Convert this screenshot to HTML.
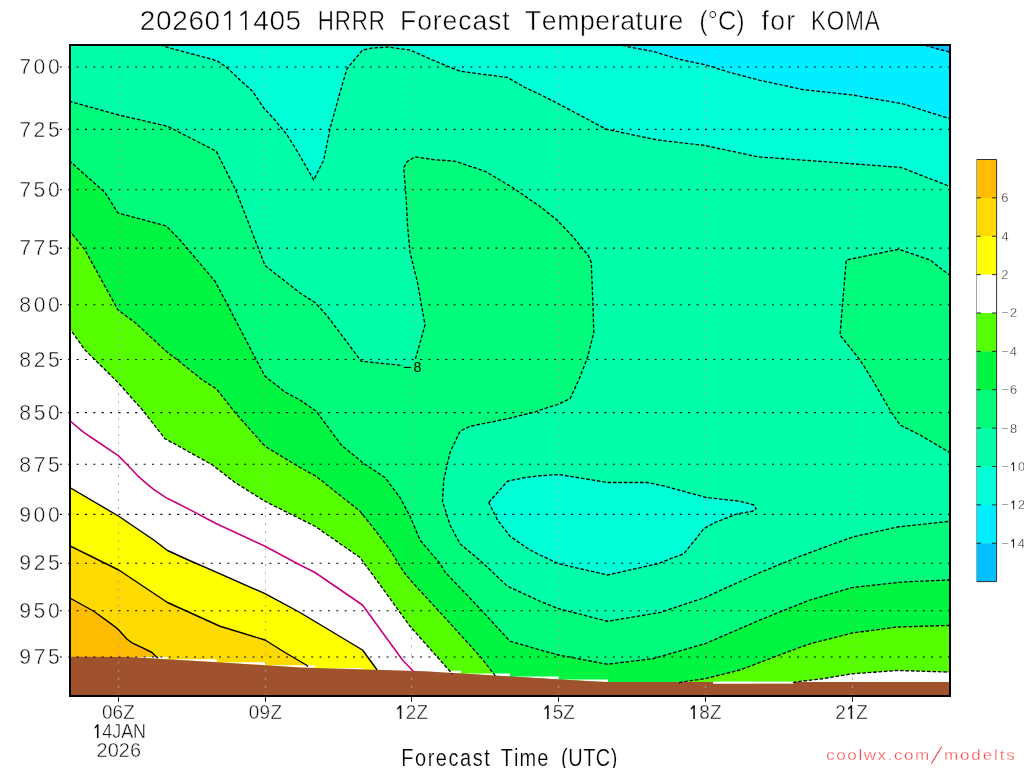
<!DOCTYPE html>
<html><head><meta charset="utf-8"><style>
html,body{margin:0;padding:0;background:#fff;width:1024px;height:768px;overflow:hidden}
svg{display:block;font-family:"Liberation Sans",sans-serif;will-change:transform}
</style></head><body>
<svg width="1024" height="768" viewBox="0 0 1024 768">
<defs><clipPath id="pc"><rect x="69" y="44.6" width="882" height="651"/></clipPath></defs>
<rect x="69" y="44" width="882" height="653" fill="rgb(0,255,168)"/>
<polygon points="160.00,44.00 160.00,45.00 172.50,48.75 191.25,53.75 212.50,59.40 218.75,61.90 227.50,68.10 240.00,80.00 252.50,91.25 263.75,108.10 273.75,118.75 286.25,133.75 295.00,147.50 300.00,156.00 313.75,180.00 323.75,160.00 330.00,128.75 340.00,92.50 347.00,68.75 362.50,50.00 372.50,48.00 387.50,47.00 410.00,50.00 432.50,60.00 460.00,71.25 507.50,77.50 525.00,87.50 540.00,94.50 556.00,102.50 572.50,111.25 606.25,129.25 657.50,140.00 705.00,145.50 755.00,156.25 760.00,157.00 852.50,163.75 901.25,167.50 947.50,185.50 951.00,186.50 951.00,44.00" fill="rgb(0,255,215)"/>
<polygon points="617.00,44.00 630.00,47.20 652.50,51.25 680.00,59.50 706.25,65.00 730.00,72.50 760.00,80.30 802.50,89.50 852.50,95.00 902.50,103.75 947.50,118.00 951.00,119.00 951.00,44.00" fill="rgb(0,238,255)"/>
<polygon points="920.00,44.00 937.20,48.80 947.50,51.50 951.00,52.50 951.00,44.00" fill="rgb(0,192,255)"/>
<polygon points="69.00,101.25 118.75,115.00 167.50,126.25 216.25,151.25 235.70,190.00 239.60,200.00 252.00,232.00 259.00,250.00 265.00,265.50 300.00,293.00 315.00,302.50 327.50,316.25 361.25,361.25 402.50,365.50 413.50,365.20 415.50,358.75 425.00,325.00 417.50,282.50 410.00,252.50 407.50,225.00 406.25,200.00 403.75,167.50 407.50,161.25 415.00,156.75 432.50,159.50 455.00,161.25 485.00,171.25 512.50,187.50 540.00,206.50 557.00,220.00 572.50,236.25 588.75,256.25 591.25,262.50 593.00,305.00 593.75,332.50 587.50,357.50 578.75,380.00 570.00,398.75 557.50,404.50 540.00,410.00 535.00,412.00 507.50,418.75 470.00,426.25 460.00,431.25 450.00,452.50 443.75,480.00 442.50,501.25 450.00,525.00 460.00,543.75 480.00,560.50 492.50,572.00 507.50,586.25 540.00,601.25 558.75,608.75 607.50,621.25 660.00,612.50 705.00,597.50 760.00,572.50 800.00,556.25 852.50,537.00 897.50,527.00 947.50,521.50 951.00,521.20 951.00,697.00 69.00,697.00" fill="rgb(0,252,122)"/>
<polygon points="951.00,275.50 947.50,273.75 930.00,260.00 898.75,249.25 846.25,260.00 840.00,335.00 860.00,360.00 872.50,380.00 890.00,410.00 900.00,425.00 920.00,435.00 947.50,451.25 951.00,453.00" fill="rgb(0,252,122)"/>
<polygon points="488.75,502.50 507.50,481.25 525.00,477.50 540.00,475.75 558.75,474.50 607.50,482.50 647.50,482.50 665.00,486.25 706.25,497.50 740.00,501.25 753.75,505.00 756.25,508.75 752.50,511.25 737.50,513.75 715.00,522.50 703.75,528.75 695.00,540.00 683.75,553.75 657.50,563.75 607.50,575.00 558.75,563.75 540.00,555.00 530.00,550.00 510.00,536.25 497.50,520.00" fill="rgb(0,255,215)"/>
<polygon points="69.00,160.50 105.00,192.50 118.00,213.00 166.25,226.00 180.00,240.00 215.00,281.25 225.00,300.00 255.00,357.50 265.00,376.25 285.00,392.00 300.00,400.00 316.25,411.25 341.25,445.00 362.50,462.50 385.00,477.50 400.00,497.50 410.00,516.25 420.00,540.00 440.00,563.50 445.00,572.00 480.00,608.75 510.00,641.25 540.00,650.00 558.75,655.00 607.50,664.25 652.50,658.75 705.00,643.75 760.00,620.00 810.00,600.00 852.50,587.50 902.50,582.00 947.50,580.00 951.00,580.00 951.00,697.00 69.00,697.00" fill="rgb(0,245,65)"/>
<polygon points="69.00,230.00 85.00,250.00 118.00,310.00 135.00,322.50 167.50,352.50 177.50,360.00 202.50,380.00 216.25,388.75 235.00,412.50 265.00,446.25 300.00,467.50 316.00,476.25 360.00,511.25 375.00,530.00 390.00,550.00 403.75,572.00 412.50,582.50 442.50,615.00 480.00,656.25 493.75,673.75 496.00,677.00 496.00,697.00 69.00,697.00" fill="rgb(85,255,0)"/>
<polygon points="679.00,683.00 681.25,682.00 705.00,678.75 740.00,670.00 796.00,648.75 810.00,643.75 852.50,633.00 897.50,627.00 947.50,625.50 951.00,625.50 951.00,697.00 679.00,697.00" fill="rgb(85,255,0)"/>
<polygon points="69.00,327.50 85.00,350.00 118.00,382.50 142.50,410.00 165.00,438.75 177.50,445.50 212.50,465.00 235.00,482.50 265.00,501.25 300.00,518.75 315.00,526.25 360.00,557.50 377.50,581.25 410.00,626.25 450.00,671.25 452.00,674.00 452.00,697.00 69.00,697.00" fill="rgb(255,255,255)"/>
<polygon points="793.00,683.00 795.00,682.00 822.50,678.75 852.50,673.75 897.50,670.50 947.50,672.00 951.00,672.00 951.00,697.00 793.00,697.00" fill="rgb(255,255,255)"/>
<polygon points="69.00,487.00 118.75,516.25 153.75,540.00 167.50,550.50 188.30,560.00 210.00,569.40 265.00,593.60 300.00,612.50 312.50,620.00 362.50,650.00 376.25,668.75 377.00,670.00 377.00,697.00 69.00,697.00" fill="rgb(255,255,0)"/>
<polygon points="69.00,545.50 118.75,570.00 167.50,602.50 220.00,626.25 265.00,640.00 285.00,652.50 306.25,665.00 308.00,666.50 308.00,697.00 69.00,697.00" fill="rgb(255,218,0)"/>
<polygon points="69.00,597.50 93.40,611.00 114.90,626.60 118.80,630.00 126.60,638.80 132.50,643.20 142.20,647.60 152.00,652.50 156.40,656.90 158.00,658.00 158.00,697.00 69.00,697.00" fill="rgb(255,188,0)"/>
<polygon points="118.89,656.97 167.78,656.97 167.78,659.36 127.50,657.00 118.89,656.97" fill="rgb(255,255,255)"/>
<polygon points="167.78,659.36 216.67,659.36 216.67,662.22 167.78,659.36" fill="rgb(255,255,255)"/>
<polygon points="216.67,662.22 265.56,662.22 265.56,665.32 218.00,662.30 216.67,662.22" fill="rgb(255,255,255)"/>
<polygon points="265.56,665.32 314.44,665.32 314.44,667.93 300.00,667.50 265.56,665.32" fill="rgb(255,255,255)"/>
<polygon points="314.44,667.93 363.33,667.93 363.33,669.37 314.44,667.93" fill="rgb(255,255,255)"/>
<polygon points="363.33,669.37 412.22,669.37 412.22,670.82 363.33,669.37" fill="rgb(255,255,255)"/>
<polygon points="412.22,670.82 461.11,670.82 461.11,673.43 425.00,671.20 412.22,670.82" fill="rgb(255,255,255)"/>
<polygon points="461.11,673.43 510.00,673.43 510.00,676.45 461.11,673.43" fill="rgb(255,255,255)"/>
<polygon points="510.00,676.45 558.89,676.45 558.89,679.40 540.00,678.30 510.00,676.45" fill="rgb(255,255,255)"/>
<polygon points="558.89,679.40 607.78,679.40 607.78,682.10 600.00,681.80 558.89,679.40" fill="rgb(255,255,255)"/>
<polygon points="705.56,682.10 754.44,682.10 754.44,683.70 713.01,683.70 713.00,682.10 705.56,682.10" fill="rgb(255,255,255)"/>
<rect x="713" y="681.6" width="81" height="2.2" fill="#fff"/>
<polygon points="69.00,656.80 127.50,657.00 218.00,662.30 300.00,667.50 425.00,671.20 540.00,678.30 600.00,681.80 607.80,682.10 713.00,682.10 713.01,683.70 794.00,683.70 794.01,682.10 951.00,682.10 951.00,697.00 69.00,697.00" fill="rgb(160,82,45)"/>
<line x1="59.84" y1="66.90" x2="949" y2="66.90" stroke="#000" stroke-width="1.05" stroke-dasharray="2 6.378"/>
<line x1="59.84" y1="129.38" x2="949" y2="129.38" stroke="#000" stroke-width="1.05" stroke-dasharray="2 6.378"/>
<line x1="59.84" y1="189.75" x2="949" y2="189.75" stroke="#000" stroke-width="1.05" stroke-dasharray="2 6.378"/>
<line x1="59.84" y1="248.13" x2="949" y2="248.13" stroke="#000" stroke-width="1.05" stroke-dasharray="2 6.378"/>
<line x1="59.84" y1="304.67" x2="949" y2="304.67" stroke="#000" stroke-width="1.05" stroke-dasharray="2 6.378"/>
<line x1="59.84" y1="359.46" x2="949" y2="359.46" stroke="#000" stroke-width="1.05" stroke-dasharray="2 6.378"/>
<line x1="59.84" y1="412.61" x2="949" y2="412.61" stroke="#000" stroke-width="1.05" stroke-dasharray="2 6.378"/>
<line x1="59.84" y1="464.23" x2="949" y2="464.23" stroke="#000" stroke-width="1.05" stroke-dasharray="2 6.378"/>
<line x1="59.84" y1="514.39" x2="949" y2="514.39" stroke="#000" stroke-width="1.05" stroke-dasharray="2 6.378"/>
<line x1="59.84" y1="563.18" x2="949" y2="563.18" stroke="#000" stroke-width="1.05" stroke-dasharray="2 6.378"/>
<line x1="59.84" y1="610.66" x2="949" y2="610.66" stroke="#000" stroke-width="1.05" stroke-dasharray="2 6.378"/>
<line x1="59.84" y1="656.91" x2="949" y2="656.91" stroke="#000" stroke-width="1.05" stroke-dasharray="2 6.378"/>
<line x1="118.50" y1="44" x2="118.50" y2="695" stroke="#a4a4a4" stroke-width="1" stroke-dasharray="1.8 6.328"/>
<line x1="118.50" y1="697" x2="118.50" y2="702" stroke="#222" stroke-width="1"/>
<line x1="265.50" y1="44" x2="265.50" y2="695" stroke="#a4a4a4" stroke-width="1" stroke-dasharray="1.8 6.328"/>
<line x1="265.50" y1="697" x2="265.50" y2="702" stroke="#222" stroke-width="1"/>
<line x1="411.50" y1="44" x2="411.50" y2="695" stroke="#a4a4a4" stroke-width="1" stroke-dasharray="1.8 6.328"/>
<line x1="411.50" y1="697" x2="411.50" y2="702" stroke="#222" stroke-width="1"/>
<line x1="558.50" y1="44" x2="558.50" y2="695" stroke="#a4a4a4" stroke-width="1" stroke-dasharray="1.8 6.328"/>
<line x1="558.50" y1="697" x2="558.50" y2="702" stroke="#222" stroke-width="1"/>
<line x1="705.50" y1="44" x2="705.50" y2="695" stroke="#a4a4a4" stroke-width="1" stroke-dasharray="1.8 6.328"/>
<line x1="705.50" y1="697" x2="705.50" y2="702" stroke="#222" stroke-width="1"/>
<line x1="852.50" y1="44" x2="852.50" y2="695" stroke="#a4a4a4" stroke-width="1" stroke-dasharray="1.8 6.328"/>
<line x1="852.50" y1="697" x2="852.50" y2="702" stroke="#222" stroke-width="1"/>
<g clip-path="url(#pc)">
<polyline points="160.00,45.00 172.50,48.75 191.25,53.75 212.50,59.40 218.75,61.90 227.50,68.10 240.00,80.00 252.50,91.25 263.75,108.10 273.75,118.75 286.25,133.75 295.00,147.50 300.00,156.00 313.75,180.00 323.75,160.00 330.00,128.75 340.00,92.50 347.00,68.75 362.50,50.00 372.50,48.00 387.50,47.00 410.00,50.00 432.50,60.00 460.00,71.25 507.50,77.50 525.00,87.50 540.00,94.50 556.00,102.50 572.50,111.25 606.25,129.25 657.50,140.00 705.00,145.50 755.00,156.25 760.00,157.00 852.50,163.75 901.25,167.50 947.50,185.50 951.00,186.50" fill="none" stroke="#000" stroke-width="1.3" stroke-dasharray="3.6 1.8" stroke-linejoin="round"/>
<polyline points="617.00,44.00 630.00,47.20 652.50,51.25 680.00,59.50 706.25,65.00 730.00,72.50 760.00,80.30 802.50,89.50 852.50,95.00 902.50,103.75 947.50,118.00 951.00,119.00" fill="none" stroke="#000" stroke-width="1.3" stroke-dasharray="3.6 1.8" stroke-linejoin="round"/>
<polyline points="920.00,44.00 937.20,48.80 947.50,51.50 951.00,52.50" fill="none" stroke="#000" stroke-width="1.3" stroke-dasharray="3.6 1.8" stroke-linejoin="round"/>
<polyline points="951.00,275.50 947.50,273.75 930.00,260.00 898.75,249.25 846.25,260.00 840.00,335.00 860.00,360.00 872.50,380.00 890.00,410.00 900.00,425.00 920.00,435.00 947.50,451.25 951.00,453.00" fill="none" stroke="#000" stroke-width="1.3" stroke-dasharray="3.6 1.8" stroke-linejoin="round"/>
<polyline points="69.00,160.50 105.00,192.50 118.00,213.00 166.25,226.00 180.00,240.00 215.00,281.25 225.00,300.00 255.00,357.50 265.00,376.25 285.00,392.00 300.00,400.00 316.25,411.25 341.25,445.00 362.50,462.50 385.00,477.50 400.00,497.50 410.00,516.25 420.00,540.00 440.00,563.50 445.00,572.00 480.00,608.75 510.00,641.25 540.00,650.00 558.75,655.00 607.50,664.25 652.50,658.75 705.00,643.75 760.00,620.00 810.00,600.00 852.50,587.50 902.50,582.00 947.50,580.00 951.00,580.00" fill="none" stroke="#000" stroke-width="1.3" stroke-dasharray="3.6 1.8" stroke-linejoin="round"/>
<polyline points="69.00,230.00 85.00,250.00 118.00,310.00 135.00,322.50 167.50,352.50 177.50,360.00 202.50,380.00 216.25,388.75 235.00,412.50 265.00,446.25 300.00,467.50 316.00,476.25 360.00,511.25 375.00,530.00 390.00,550.00 403.75,572.00 412.50,582.50 442.50,615.00 480.00,656.25 493.75,673.75 496.00,677.00" fill="none" stroke="#000" stroke-width="1.3" stroke-dasharray="3.6 1.8" stroke-linejoin="round"/>
<polyline points="679.00,683.00 681.25,682.00 705.00,678.75 740.00,670.00 796.00,648.75 810.00,643.75 852.50,633.00 897.50,627.00 947.50,625.50 951.00,625.50" fill="none" stroke="#000" stroke-width="1.3" stroke-dasharray="3.6 1.8" stroke-linejoin="round"/>
<polyline points="69.00,327.50 85.00,350.00 118.00,382.50 142.50,410.00 165.00,438.75 177.50,445.50 212.50,465.00 235.00,482.50 265.00,501.25 300.00,518.75 315.00,526.25 360.00,557.50 377.50,581.25 410.00,626.25 450.00,671.25 452.00,674.00" fill="none" stroke="#000" stroke-width="1.3" stroke-dasharray="3.6 1.8" stroke-linejoin="round"/>
<polyline points="793.00,683.00 795.00,682.00 822.50,678.75 852.50,673.75 897.50,670.50 947.50,672.00 951.00,672.00" fill="none" stroke="#000" stroke-width="1.3" stroke-dasharray="3.6 1.8" stroke-linejoin="round"/>
<polyline points="69.00,101.25 118.75,115.00 167.50,126.25 216.25,151.25 235.70,190.00 239.60,200.00 252.00,232.00 259.00,250.00 265.00,265.50 300.00,293.00 315.00,302.50 327.50,316.25 361.25,361.25 402.50,365.50" fill="none" stroke="#000" stroke-width="1.3" stroke-dasharray="3.6 1.8" stroke-linejoin="round"/>
<polyline points="415.50,358.75 425.00,325.00 417.50,282.50 410.00,252.50 407.50,225.00 406.25,200.00 403.75,167.50 407.50,161.25 415.00,156.75 432.50,159.50 455.00,161.25 485.00,171.25 512.50,187.50 540.00,206.50 557.00,220.00 572.50,236.25 588.75,256.25 591.25,262.50 593.00,305.00 593.75,332.50 587.50,357.50 578.75,380.00 570.00,398.75 557.50,404.50 540.00,410.00 535.00,412.00 507.50,418.75 470.00,426.25 460.00,431.25 450.00,452.50 443.75,480.00 442.50,501.25 450.00,525.00 460.00,543.75 480.00,560.50 492.50,572.00 507.50,586.25 540.00,601.25 558.75,608.75 607.50,621.25 660.00,612.50 705.00,597.50 760.00,572.50 800.00,556.25 852.50,537.00 897.50,527.00 947.50,521.50 951.00,521.20" fill="none" stroke="#000" stroke-width="1.3" stroke-dasharray="3.6 1.8" stroke-linejoin="round"/>
<polyline points="488.75,502.50 507.50,481.25 525.00,477.50 540.00,475.75 558.75,474.50 607.50,482.50 647.50,482.50 665.00,486.25 706.25,497.50 740.00,501.25 753.75,505.00 756.25,508.75 752.50,511.25 737.50,513.75 715.00,522.50 703.75,528.75 695.00,540.00 683.75,553.75 657.50,563.75 607.50,575.00 558.75,563.75 540.00,555.00 530.00,550.00 510.00,536.25 497.50,520.00 488.75,502.50" fill="none" stroke="#000" stroke-width="1.3" stroke-dasharray="3.6 1.8" stroke-linejoin="round"/>
<polyline points="69.00,420.00 84.30,432.80 92.10,438.00 118.20,455.60 127.30,464.70 137.70,475.80 148.10,484.90 154.60,490.10 166.40,497.90 174.20,501.80 189.80,509.60 215.00,523.00 265.00,546.25 300.00,565.00 315.00,572.50 362.50,605.00 382.50,632.50 402.50,660.00 412.50,670.50 414.00,672.00" fill="none" stroke="rgb(200,0,128)" stroke-width="1.6" stroke-linejoin="round"/>
<polyline points="69.00,487.00 118.75,516.25 153.75,540.00 167.50,550.50 188.30,560.00 210.00,569.40 265.00,593.60 300.00,612.50 312.50,620.00 362.50,650.00 376.25,668.75 377.00,670.00" fill="none" stroke="#000" stroke-width="1.4" stroke-linejoin="round"/>
<polyline points="69.00,545.50 118.75,570.00 167.50,602.50 220.00,626.25 265.00,640.00 285.00,652.50 306.25,665.00 308.00,666.50" fill="none" stroke="#000" stroke-width="1.4" stroke-linejoin="round"/>
<polyline points="69.00,597.50 93.40,611.00 114.90,626.60 118.80,630.00 126.60,638.80 132.50,643.20 142.20,647.60 152.00,652.50 156.40,656.90 158.00,658.00" fill="none" stroke="#000" stroke-width="1.4" stroke-linejoin="round"/>
</g>
<rect x="70" y="45" width="880" height="651" fill="none" stroke="#000" stroke-width="2"/>
<text x="139.79 155.99 172.19 188.40 204.60 220.80 237.00 253.20 269.40 285.60" y="30.10" font-size="28.00" fill="#000" stroke="#fff" stroke-width="0.50" stroke-linejoin="round" style="font-kerning:none;white-space:pre" >20260  405</text><path d="M590 0 L700 0 L700 1409 L610 1409 L250 1127 L250 1012 L590 1225 Z" fill="#000" transform="translate(220.80,30.10) scale(0.01367,-0.01367)"/><path d="M590 0 L700 0 L700 1409 L610 1409 L250 1127 L250 1012 L590 1225 Z" fill="#000" transform="translate(237.00,30.10) scale(0.01367,-0.01367)"/>
<text x="397.08 418.41 439.74 461.08" y="30.10" font-size="28.00" fill="#000" stroke="#fff" stroke-width="0.50" stroke-linejoin="round" transform="scale(0.8000,1)" style="font-kerning:none;white-space:pre" >HRRR</text>
<text x="421.18 439.18 455.66 465.88 482.36 497.26 513.73 528.64" y="30.10" font-size="28.00" fill="#000" stroke="#fff" stroke-width="0.50" stroke-linejoin="round" transform="scale(0.9500,1)" style="font-kerning:none;white-space:pre" >Forecast</text>
<text x="552.53 570.26 586.47 610.43 626.63 642.83 652.79 668.99 677.41 693.61 703.57" y="30.10" font-size="28.00" fill="#000" stroke="#fff" stroke-width="0.50" stroke-linejoin="round" transform="scale(0.9500,1)" style="font-kerning:none;white-space:pre" >Temperature</text>
<text x="776.82 786.35 797.76 818.19" y="30.10" font-size="28.00" fill="#000" stroke="#fff" stroke-width="0.50" stroke-linejoin="round" transform="scale(0.9000,1)" style="font-kerning:none;white-space:pre" >(°C)</text>
<text x="801.71 810.79 827.67" y="30.10" font-size="28.00" fill="#000" stroke="#fff" stroke-width="0.50" stroke-linejoin="round" transform="scale(0.9500,1)" style="font-kerning:none;white-space:pre" >for</text>
<text x="1013.70 1033.51 1056.42 1080.88" y="30.10" font-size="28.00" fill="#000" stroke="#fff" stroke-width="0.50" stroke-linejoin="round" transform="scale(0.8000,1)" style="font-kerning:none;white-space:pre" >KOMA</text>
<text x="19.16 33.55 47.94" y="74.20" font-size="21.20" fill="#111" stroke="#fff" stroke-width="0.45" stroke-linejoin="round" style="font-kerning:none;white-space:pre" >700</text>
<text x="19.16 33.58 48.00" y="136.68" font-size="21.20" fill="#111" stroke="#fff" stroke-width="0.45" stroke-linejoin="round" style="font-kerning:none;white-space:pre" >725</text>
<text x="19.16 33.55 47.94" y="197.05" font-size="21.20" fill="#111" stroke="#fff" stroke-width="0.45" stroke-linejoin="round" style="font-kerning:none;white-space:pre" >750</text>
<text x="19.16 33.58 48.00" y="255.43" font-size="21.20" fill="#111" stroke="#fff" stroke-width="0.45" stroke-linejoin="round" style="font-kerning:none;white-space:pre" >775</text>
<text x="19.33 33.63 47.94" y="311.97" font-size="21.20" fill="#111" stroke="#fff" stroke-width="0.45" stroke-linejoin="round" style="font-kerning:none;white-space:pre" >800</text>
<text x="19.33 33.66 48.00" y="366.76" font-size="21.20" fill="#111" stroke="#fff" stroke-width="0.45" stroke-linejoin="round" style="font-kerning:none;white-space:pre" >825</text>
<text x="19.33 33.63 47.94" y="419.91" font-size="21.20" fill="#111" stroke="#fff" stroke-width="0.45" stroke-linejoin="round" style="font-kerning:none;white-space:pre" >850</text>
<text x="19.33 33.66 48.00" y="471.53" font-size="21.20" fill="#111" stroke="#fff" stroke-width="0.45" stroke-linejoin="round" style="font-kerning:none;white-space:pre" >875</text>
<text x="19.26 33.60 47.94" y="521.69" font-size="21.20" fill="#111" stroke="#fff" stroke-width="0.45" stroke-linejoin="round" style="font-kerning:none;white-space:pre" >900</text>
<text x="19.26 33.63 48.00" y="570.48" font-size="21.20" fill="#111" stroke="#fff" stroke-width="0.45" stroke-linejoin="round" style="font-kerning:none;white-space:pre" >925</text>
<text x="19.26 33.60 47.94" y="617.96" font-size="21.20" fill="#111" stroke="#fff" stroke-width="0.45" stroke-linejoin="round" style="font-kerning:none;white-space:pre" >950</text>
<text x="19.26 33.63 48.00" y="664.21" font-size="21.20" fill="#111" stroke="#fff" stroke-width="0.45" stroke-linejoin="round" style="font-kerning:none;white-space:pre" >975</text>
<text x="107.33 118.53 129.73" y="719.00" font-size="19.90" fill="#111" stroke="#fff" stroke-width="0.40" stroke-linejoin="round" transform="scale(0.9500,1)" style="font-kerning:none;white-space:pre" >06Z</text>
<text x="261.75 273.21 284.68" y="719.00" font-size="19.90" fill="#111" stroke="#fff" stroke-width="0.40" stroke-linejoin="round" transform="scale(0.9500,1)" style="font-kerning:none;white-space:pre" >09Z</text>
<text x="415.68 427.07 438.47" y="719.00" font-size="19.90" fill="#111" stroke="#fff" stroke-width="0.40" stroke-linejoin="round" transform="scale(0.9500,1)" style="font-kerning:none;white-space:pre" > 2Z</text><path d="M527 0 L700 0 L700 1409 L547 1409 L250 1115 L250 943 L527 1132 Z" fill="#111" transform="translate(394.89,719.00) scale(0.00923,-0.00972)"/>
<text x="570.73 581.76 592.78" y="719.00" font-size="19.90" fill="#111" stroke="#fff" stroke-width="0.40" stroke-linejoin="round" transform="scale(0.9500,1)" style="font-kerning:none;white-space:pre" > 5Z</text><path d="M527 0 L700 0 L700 1409 L547 1409 L250 1115 L250 943 L527 1132 Z" fill="#111" transform="translate(542.19,719.00) scale(0.00923,-0.00972)"/>
<text x="724.62 736.02 747.41" y="719.00" font-size="19.90" fill="#111" stroke="#fff" stroke-width="0.40" stroke-linejoin="round" transform="scale(0.9500,1)" style="font-kerning:none;white-space:pre" > 8Z</text><path d="M527 0 L700 0 L700 1409 L547 1409 L250 1115 L250 943 L527 1132 Z" fill="#111" transform="translate(688.39,719.00) scale(0.00923,-0.00972)"/>
<text x="879.26 890.23 901.20" y="719.00" font-size="19.90" fill="#111" stroke="#fff" stroke-width="0.40" stroke-linejoin="round" transform="scale(0.9500,1)" style="font-kerning:none;white-space:pre" >2 Z</text><path d="M527 0 L700 0 L700 1409 L547 1409 L250 1115 L250 943 L527 1132 Z" fill="#111" transform="translate(845.72,719.00) scale(0.00923,-0.00972)"/>
<text x="102.68 113.69 124.70 134.59 147.81" y="738.00" font-size="19.90" fill="#111" stroke="#fff" stroke-width="0.40" stroke-linejoin="round" transform="scale(0.9000,1)" style="font-kerning:none;white-space:pre" > 4JAN</text><path d="M517 0 L700 0 L700 1409 L537 1409 L250 1115 L250 943 L517 1132 Z" fill="#111" transform="translate(92.41,738.00) scale(0.00875,-0.00972)"/>
<text x="96.60 107.70 118.80 129.91" y="757.00" font-size="19.90" fill="#111" stroke="#fff" stroke-width="0.40" stroke-linejoin="round" style="font-kerning:none;white-space:pre" >2026</text>
<text x="472.07 488.24 503.12 512.76 527.64 541.20 556.08 569.64" y="766.20" font-size="23.50" fill="#000" stroke="#fff" stroke-width="0.20" stroke-linejoin="round" transform="scale(0.8500,1)" style="font-kerning:none;white-space:pre" >Forecast</text>
<text x="589.24 604.83 611.28 632.09" y="766.20" font-size="23.50" fill="#000" stroke="#fff" stroke-width="0.20" stroke-linejoin="round" transform="scale(0.8500,1)" style="font-kerning:none;white-space:pre" >Time</text>
<text x="660.07 668.49 686.06 701.01 718.57" y="766.20" font-size="23.50" fill="#000" stroke="#fff" stroke-width="0.20" stroke-linejoin="round" transform="scale(0.8500,1)" style="font-kerning:none;white-space:pre" >(UTC)</text>
<text x="751.16 760.31 770.34 780.36 785.20 797.80 806.95 812.66 821.81 831.84" y="760.30" font-size="15.50" fill="rgb(255,55,55)" stroke="#fff" stroke-width="0.35" stroke-linejoin="round" transform="scale(1.1000,1)" style="font-kerning:none;white-space:pre" >coolwx.com</text>
<text x="858.15 872.75 883.06 893.37 903.68 908.81 914.81" y="760.30" font-size="15.50" fill="rgb(255,55,55)" stroke="#fff" stroke-width="0.35" stroke-linejoin="round" transform="scale(1.1000,1)" style="font-kerning:none;white-space:pre" >modelts</text>
<line x1="931.6" y1="763.2" x2="941.4" y2="747.2" stroke="rgb(255,55,55)" stroke-width="1.1" stroke-linecap="round"/>
<text x="403.09 413.47" y="371.50" font-size="14.30" fill="#000" style="font-kerning:none;white-space:pre" >−8</text>
<rect x="976.50" y="159.50" width="20.10" height="38.67" fill="rgb(255,188,0)"/>
<rect x="976.50" y="197.87" width="20.10" height="38.67" fill="rgb(255,218,0)"/>
<rect x="976.50" y="236.25" width="20.10" height="38.67" fill="rgb(255,255,0)"/>
<rect x="976.50" y="274.62" width="20.10" height="38.67" fill="rgb(255,255,255)"/>
<rect x="976.50" y="312.99" width="20.10" height="38.67" fill="rgb(85,255,0)"/>
<rect x="976.50" y="351.36" width="20.10" height="38.67" fill="rgb(0,245,65)"/>
<rect x="976.50" y="389.74" width="20.10" height="38.67" fill="rgb(0,252,122)"/>
<rect x="976.50" y="428.11" width="20.10" height="38.67" fill="rgb(0,255,168)"/>
<rect x="976.50" y="466.48" width="20.10" height="38.67" fill="rgb(0,255,215)"/>
<rect x="976.50" y="504.85" width="20.10" height="38.67" fill="rgb(0,238,255)"/>
<rect x="976.50" y="543.23" width="20.10" height="38.67" fill="rgb(0,192,255)"/>
<path d="M976.50 159.50 H996.60 V581.60 H976.50" fill="none" stroke="#333" stroke-width="1"/>
<line x1="976.50" y1="159.50" x2="976.50" y2="581.60" stroke="#9aa" stroke-width="1"/>
<line x1="976.50" y1="197.87" x2="980.80" y2="197.87" stroke="#222" stroke-width="1"/>
<line x1="992.10" y1="197.87" x2="996.60" y2="197.87" stroke="#222" stroke-width="1"/>
<text x="1001.25" y="202.37" font-size="12.80" fill="#222" stroke="#fff" stroke-width="0.30" stroke-linejoin="round" style="font-kerning:none;white-space:pre" >6</text>
<line x1="976.50" y1="236.25" x2="980.80" y2="236.25" stroke="#222" stroke-width="1"/>
<line x1="992.10" y1="236.25" x2="996.60" y2="236.25" stroke="#222" stroke-width="1"/>
<text x="1001.61" y="240.75" font-size="12.80" fill="#222" stroke="#fff" stroke-width="0.30" stroke-linejoin="round" style="font-kerning:none;white-space:pre" >4</text>
<line x1="976.50" y1="274.62" x2="980.80" y2="274.62" stroke="#222" stroke-width="1"/>
<line x1="992.10" y1="274.62" x2="996.60" y2="274.62" stroke="#222" stroke-width="1"/>
<text x="1001.26" y="279.12" font-size="12.80" fill="#222" stroke="#fff" stroke-width="0.30" stroke-linejoin="round" style="font-kerning:none;white-space:pre" >2</text>
<line x1="976.50" y1="312.99" x2="980.80" y2="312.99" stroke="#222" stroke-width="1"/>
<line x1="992.10" y1="312.99" x2="996.60" y2="312.99" stroke="#222" stroke-width="1"/>
<text x="1001.27 1010.02" y="317.49" font-size="12.80" fill="#222" stroke="#fff" stroke-width="0.30" stroke-linejoin="round" style="font-kerning:none;white-space:pre" >−2</text>
<line x1="976.50" y1="351.36" x2="980.80" y2="351.36" stroke="#222" stroke-width="1"/>
<line x1="992.10" y1="351.36" x2="996.60" y2="351.36" stroke="#222" stroke-width="1"/>
<text x="1001.27 1009.76" y="355.86" font-size="12.80" fill="#222" stroke="#fff" stroke-width="0.30" stroke-linejoin="round" style="font-kerning:none;white-space:pre" >−4</text>
<line x1="976.50" y1="389.74" x2="980.80" y2="389.74" stroke="#222" stroke-width="1"/>
<line x1="992.10" y1="389.74" x2="996.60" y2="389.74" stroke="#222" stroke-width="1"/>
<text x="1001.27 1009.94" y="394.24" font-size="12.80" fill="#222" stroke="#fff" stroke-width="0.30" stroke-linejoin="round" style="font-kerning:none;white-space:pre" >−6</text>
<line x1="976.50" y1="428.11" x2="980.80" y2="428.11" stroke="#222" stroke-width="1"/>
<line x1="992.10" y1="428.11" x2="996.60" y2="428.11" stroke="#222" stroke-width="1"/>
<text x="1001.27 1009.94" y="432.61" font-size="12.80" fill="#222" stroke="#fff" stroke-width="0.30" stroke-linejoin="round" style="font-kerning:none;white-space:pre" >−8</text>
<line x1="976.50" y1="466.48" x2="980.80" y2="466.48" stroke="#222" stroke-width="1"/>
<line x1="992.10" y1="466.48" x2="996.60" y2="466.48" stroke="#222" stroke-width="1"/>
<text x="1001.27 1009.75 1017.88" y="470.98" font-size="12.80" fill="#222" stroke="#fff" stroke-width="0.30" stroke-linejoin="round" style="font-kerning:none;white-space:pre" >− 0</text><path d="M524 0 L700 0 L700 1409 L544 1409 L250 1113 L250 928 L524 1113 Z" fill="#222" transform="translate(1009.75,470.98) scale(0.00625,-0.00625)"/>
<line x1="976.50" y1="504.85" x2="980.80" y2="504.85" stroke="#222" stroke-width="1"/>
<line x1="992.10" y1="504.85" x2="996.60" y2="504.85" stroke="#222" stroke-width="1"/>
<text x="1001.27 1009.82 1018.02" y="509.35" font-size="12.80" fill="#222" stroke="#fff" stroke-width="0.30" stroke-linejoin="round" style="font-kerning:none;white-space:pre" >− 2</text><path d="M524 0 L700 0 L700 1409 L544 1409 L250 1113 L250 928 L524 1113 Z" fill="#222" transform="translate(1009.82,509.35) scale(0.00625,-0.00625)"/>
<line x1="976.50" y1="543.23" x2="980.80" y2="543.23" stroke="#222" stroke-width="1"/>
<line x1="992.10" y1="543.23" x2="996.60" y2="543.23" stroke="#222" stroke-width="1"/>
<text x="1001.27 1009.69 1017.76" y="547.73" font-size="12.80" fill="#222" stroke="#fff" stroke-width="0.30" stroke-linejoin="round" style="font-kerning:none;white-space:pre" >− 4</text><path d="M524 0 L700 0 L700 1409 L544 1409 L250 1113 L250 928 L524 1113 Z" fill="#222" transform="translate(1009.69,547.73) scale(0.00625,-0.00625)"/>
</svg>
</body></html>
